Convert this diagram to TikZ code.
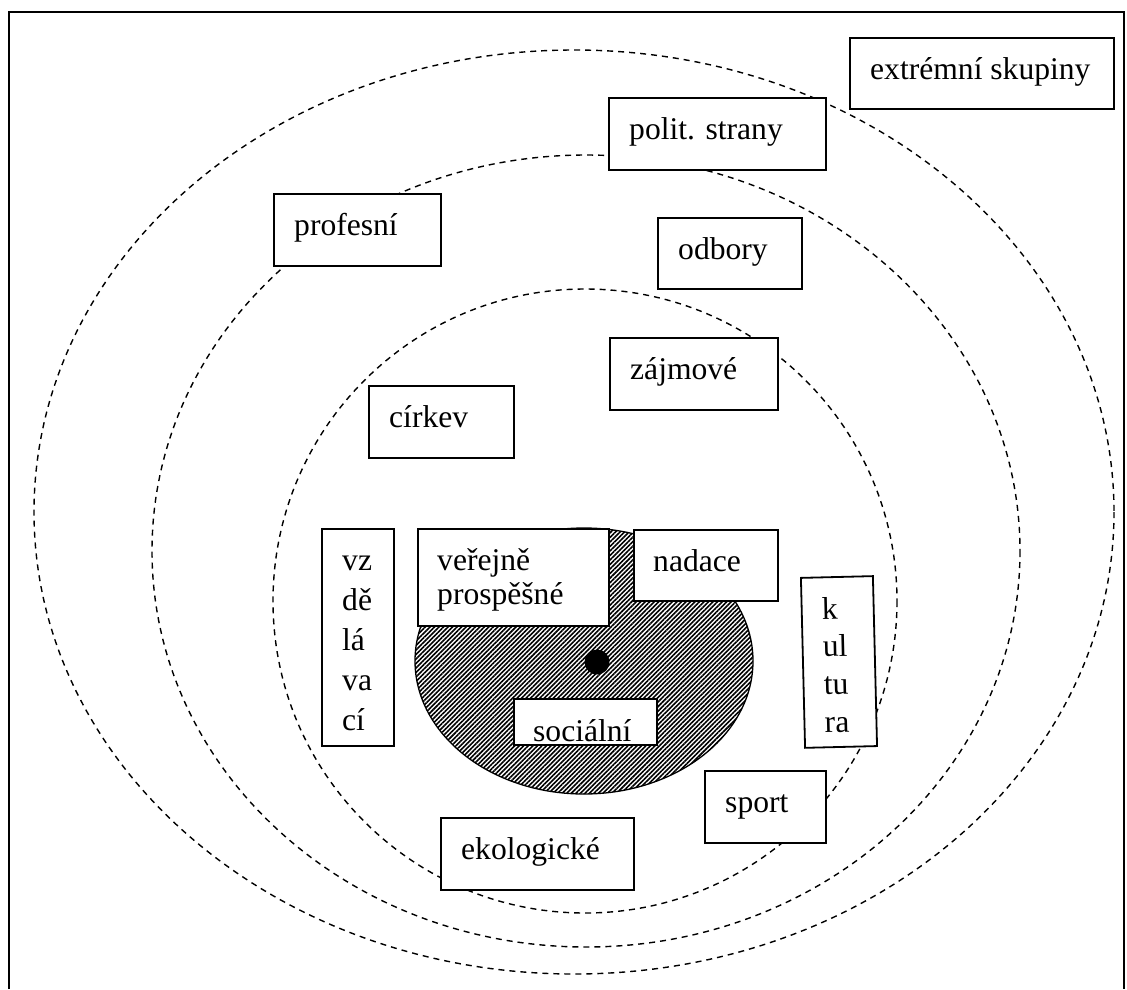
\documentclass[tikz,border=0pt]{standalone}
\usepackage{fontspec}
\setmainfont{Liberation Serif}
\usetikzlibrary{patterns.meta}

\tikzset{
	box/.style={draw, fill=white, line width=1.8pt, anchor=north west, inner sep=0pt},
	lbl/.style={anchor=base west, inner sep=0pt, font=\fontsize{31.6}{40}\selectfont},
	ring/.style={dash pattern=on 6pt off 5pt, line width=1.4pt},
}

\begin{document}
\begin{tikzpicture}[x=1pt, y=-1pt]
	\useasboundingbox (0,0) rectangle (1127,989);
	\draw[line width=2pt] (9,989) -- (9,12) -- (1124,12) -- (1124,989);

	\draw[ring] (574,512) ellipse [x radius=540, y radius=462];
	\draw[ring] (586,551) ellipse [x radius=434, y radius=396];
	\draw[ring] (585,601) ellipse [x radius=312, y radius=312];

	\draw[line width=1.3pt, pattern={Lines[angle=45, distance=3.2pt, line width=1.6pt]}] (584,661) ellipse [x radius=169, y radius=133];
	\node[circle, fill, minimum size=25pt, inner sep=0pt] (hub) at (597,662) {};

	\node[box, minimum width=264pt, minimum height=71pt] (extrem) at (849,37) {};
	\node[lbl] at ([shift={(21,42)}]extrem.north west) {extrémní skupiny};

	\node[box, minimum width=217pt, minimum height=72pt] (polit) at (608,97) {};
	\node[lbl] at ([shift={(21,42)}]polit.north west) {polit. strany};

	\node[box, minimum width=167pt, minimum height=72pt] (profes) at (273,193) {};
	\node[lbl] at ([shift={(21,42)}]profes.north west) {profesní};

	\node[box, minimum width=144pt, minimum height=71pt] (odbory) at (657,217) {};
	\node[lbl] at ([shift={(21,42)}]odbory.north west) {odbory};

	\node[box, minimum width=168pt, minimum height=72pt] (zajmy) at (609,337) {};
	\node[lbl] at ([shift={(21,42)}]zajmy.north west) {zájmové};

	\node[box, minimum width=145pt, minimum height=72pt] (cirkev) at (368,385) {};
	\node[lbl] at ([shift={(21,42)}]cirkev.north west) {církev};

	\node[box, minimum width=72pt, minimum height=217pt] (vzdel) at (321,528) {};
	\node[lbl] at ([shift={(21,42)}]vzdel.north west) {\begin{tabular}[t]{@{}l@{}}vz\\dě\\lá\\va\\cí\end{tabular}};

	\node[box, minimum width=191pt, minimum height=97pt] (verej) at (417,528) {};
	\node[lbl, font=\fontsize{31.6}{34}\selectfont] at ([shift={(20,42)}]verej.north west) {\begin{tabular}[t]{@{}l@{}}veřejně\\prospěšné\end{tabular}};

	\node[box, minimum width=144pt, minimum height=71pt] (nadace) at (633,529) {};
	\node[lbl] at ([shift={(20,42)}]nadace.north west) {nadace};

	\node[box, rotate=1.4, minimum width=72pt, minimum height=170pt] (kultura) at (800,577) {};
	\node[lbl, rotate=1.4, font=\fontsize{31.6}{38}\selectfont] at ([shift={(22,42)}]kultura.north west) {\begin{tabular}[t]{@{}l@{}}k\\ul\\tu\\ra\end{tabular}};

	\node[box, minimum width=143pt, minimum height=46pt] (social) at (513,698) {};
	\begin{scope}
		\clip (social.north west) rectangle ([yshift=3pt]social.south east);
		\node[lbl] at ([shift={(20,43)}]social.north west) {sociální};
	\end{scope}

	\node[box, minimum width=121pt, minimum height=72pt] (sport) at (704,770) {};
	\node[lbl] at ([shift={(21,42)}]sport.north west) {sport};

	\node[box, minimum width=193pt, minimum height=72pt] (ekolog) at (440,817) {};
	\node[lbl] at ([shift={(21,42)}]ekolog.north west) {ekologické};
\end{tikzpicture}
\end{document}
